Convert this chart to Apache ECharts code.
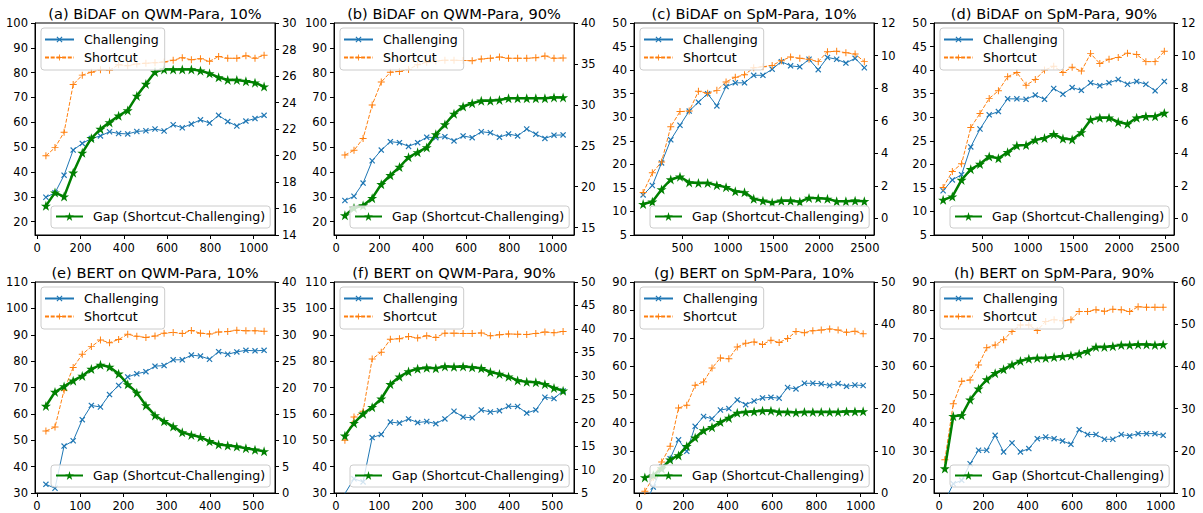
<!DOCTYPE html>
<html>
<head>
<meta charset="utf-8">
<script src="https://cdn.jsdelivr.net/npm/echarts@6/dist/echarts.min.js"></script>
<style>html,body{margin:0;padding:0;background:#fff}#c{width:1203px;height:513px}</style>
</head>
<body>
<div id="c"></div>
<script>
// ---------- x positions ----------
const xBiDAFQWM = [40,82,124,166,208,250,292,334,376,418,460,502,544,586,628,670,712,754,796,838,880,922,964,1006,1048];
const xBiDAFSpM = [70,171,272,373,474,575,676,777,878,979,1080,1181,1282,1383,1484,1585,1686,1787,1888,1989,2090,2191,2292,2393,2494];
const xBERTQWM = [21,42,63,84,105,126,147,168,189,210,231,252,273,294,315,336,357,378,399,420,441,462,483,504,525];
const xBERTSpM = [26,64,102,140,178,215,253,291,329,367,405,443,481,519,557,595,632,670,708,746,784,822,860,898,936,974,1011];

// ---------- series values ----------
const aChal = [29.8,31.6,38.7,48.8,51.5,53.5,54.5,56.2,55.5,55.3,56.3,56.6,57.3,56.5,59.0,57.8,59.3,61.0,59.7,62.8,60.3,58.5,60.5,61.5,62.8];
const aShort = [46.5,49.8,56.0,75.2,79.0,80.2,81.2,81.0,83.2,82.8,83.5,83.8,84.0,84.3,85.0,86.0,85.2,85.6,84.6,86.5,85.8,85.8,86.8,85.8,87.0];
const aGap = [16.2,17.2,16.9,18.7,20.2,21.3,22.0,22.5,23.0,23.4,24.5,25.4,26.3,26.5,26.5,26.5,26.5,26.4,26.2,25.9,25.7,25.7,25.6,25.5,25.2];

const bChal = [28.5,30.2,35.5,44.5,48.8,52.2,51.8,50.3,51.8,54.0,53.8,54.2,52.5,54.5,53.8,56.2,55.8,54.0,55.3,54.5,57.3,55.2,53.5,54.8,54.9];
const bShort = [46.8,48.7,53.5,67.0,76.2,80.2,80.5,81.3,83.2,84.2,84.7,85.0,85.0,84.9,84.8,85.5,85.8,86.3,85.8,85.8,85.8,86.0,86.7,85.8,85.9];
const bGap = [16.5,17.4,17.7,18.6,20.3,21.4,22.4,23.6,24.2,24.8,26.4,27.6,28.9,29.8,30.2,30.5,30.5,30.6,30.8,30.8,30.8,30.8,30.8,30.9,30.9];

const cChal = [13.5,15.5,20.3,25.2,28.3,31.3,33.2,35.0,32.4,36.5,37.3,37.3,38.9,38.9,40.2,41.8,40.9,40.7,42.3,40.1,42.7,42.3,41.5,42.5,40.5];
const cShort = [14.0,18.2,20.5,28.0,31.2,31.3,35.5,35.1,35.7,37.5,38.5,39.0,40.5,40.7,41.0,42.0,42.8,42.5,42.3,41.8,43.9,44.0,43.7,43.4,41.8];
const cGap = [0.88,1.02,1.78,2.39,2.56,2.21,2.18,2.18,2.04,1.92,1.66,1.60,1.20,1.08,0.97,1.08,1.08,1.02,1.26,1.23,1.20,1.05,1.05,1.08,1.05];

const dChal = [14.4,16.7,17.8,23.7,27.5,30.5,31.2,33.9,33.9,33.8,34.7,33.8,36.1,34.9,36.3,35.7,37.3,36.7,37.3,38.0,37.0,37.6,37.0,35.6,37.6];
const dShort = [15.1,18.5,20.1,27.8,30.8,34.0,35.6,38.6,39.5,36.8,38.0,40.0,40.8,39.5,40.6,39.8,43.5,41.4,42.3,42.7,43.6,43.3,41.8,41.8,44.0];
const dGap = [1.14,1.34,2.36,3.02,3.34,3.80,3.69,4.06,4.47,4.50,4.82,4.93,5.17,4.90,4.85,5.28,6.06,6.18,6.18,5.92,5.80,6.18,6.27,6.27,6.47];

const eChal = [33.3,31.8,47.8,49.8,57.8,63.2,62.6,67.3,70.8,74.0,75.2,76.0,78.1,78.3,80.5,80.5,82.3,81.9,80.7,83.6,82.6,83.5,84.1,83.9,84.1];
const eShort = [53.5,55.0,69.0,77.6,82.6,85.5,88.0,87.0,88.2,90.2,89.4,89.0,89.5,90.6,90.9,90.5,91.6,90.6,90.3,91.0,91.2,91.7,91.5,91.5,91.3];
const eGap = [16.5,19.15,20.2,21.3,22.2,23.5,24.3,23.9,22.6,20.6,19.0,16.6,14.7,13.6,12.6,11.5,11.0,10.6,9.8,9.2,9.0,8.8,8.5,8.2,7.9];

const fChal = [29.8,35.4,34.2,51.0,52.2,56.9,56.5,58.1,56.7,57.1,56.3,58.1,61.0,58.8,58.5,61.5,60.7,61.2,62.9,62.8,60.3,61.5,66.3,65.8,68.7];
const fShort = [50.0,58.8,61.0,80.8,83.4,88.3,88.5,89.3,88.8,89.6,89.0,90.6,90.6,90.5,90.5,90.7,89.6,90.0,90.3,90.2,90.1,90.5,91.0,90.8,91.2];
const fGap = [17.2,19.9,21.9,23.3,25.1,28.2,29.8,30.9,31.5,31.7,31.6,32.0,31.9,32.0,31.8,31.6,30.8,30.4,29.8,29.0,28.7,28.6,28.2,27.4,26.8];

const gChal = [11.0,17.1,24.2,27.2,33.9,29.8,38.7,42.2,41.4,44.5,45.0,48.1,46.4,47.7,48.8,49.0,48.7,52.5,52.0,54.0,54.0,53.8,53.2,53.9,52.9,53.4,53.2];
const gShort = [15.6,20.5,26.0,31.6,45.2,46.2,53.3,54.5,59.4,63.0,62.7,66.9,68.2,68.7,67.8,69.3,68.5,69.9,72.4,72.0,72.7,72.9,73.3,72.9,72.1,72.5,71.6];
const gGap = [3.7,4.2,5.8,7.9,8.9,11.1,13.1,14.8,15.6,16.8,17.8,19.0,19.2,19.3,19.5,19.5,19.2,19.2,19.1,19.2,19.2,19.2,19.2,19.2,19.3,19.3,19.35];

const hChal = [12.0,18.3,19.5,25.4,30.2,30.2,35.5,29.6,32.8,29.6,30.8,34.3,34.9,34.3,33.5,32.3,37.5,35.8,35.8,34.1,34.1,35.8,35.3,36.1,36.1,36.1,35.5];
const hShort = [26.8,46.7,54.7,55.2,60.5,66.6,67.6,69.5,72.4,74.7,74.7,72.8,76.0,76.6,76.2,76.6,79.5,79.5,80.1,79.6,80.3,80.1,79.5,81.2,81.0,81.0,81.0];
const hGap = [15.8,28.2,28.4,32.1,34.7,36.9,38.4,39.3,40.4,41.3,41.8,42.0,42.0,42.2,42.4,42.6,43.0,43.6,44.6,44.6,44.8,45.1,45.1,45.2,45.2,45.1,45.2];

// ---------- tick labels ----------
const xTicksBiDAFQWM = [0,200,400,600,800,1000];
const xTicksBiDAFSpM = [500,1000,1500,2000,2500];
const xTicksBERTQWM = [0,100,200,300,400,500];
const xTicksBERTSpM = [0,200,400,600,800,1000];
const yTicksLeftAB = [20,30,40,50,60,70,80,90,100];
const yTicksRightA = [14,16,18,20,22,24,26,28,30];
const yTicksRightB = [15,20,25,30,35,40];
const yTicksLeftCD = [5,10,15,20,25,30,35,40,45,50];
const yTicksRightCD = [0,2,4,6,8,10,12];
const yTicksLeftEF = [30,40,50,60,70,80,90,100,110];
const yTicksRightE = [0,5,10,15,20,25,30,35,40];
const yTicksRightF = [5,10,15,20,25,30,35,40,45,50];
const yTicksLeftGH = [20,30,40,50,60,70,80,90];
const yTicksRightG = [0,10,20,30,40,50];
const yTicksRightH = [10,20,30,40,50,60];

const titles = ['(a) BiDAF on QWM-Para, 10%','(b) BiDAF on QWM-Para, 90%','(c) BiDAF on SpM-Para, 10%','(d) BiDAF on SpM-Para, 90%',
                '(e) BERT on QWM-Para, 10%','(f) BERT on QWM-Para, 90%','(g) BERT on SpM-Para, 10%','(h) BERT on SpM-Para, 90%'];

const panels = [
  {x:xBiDAFQWM, chal:aChal, short:aShort, gap:aGap, xr:[-10.4,1098.4], xt:xTicksBiDAFQWM, lr:[14.6,100], lt:yTicksLeftAB, rr:[14,30], rt:yTicksRightA},
  {x:xBiDAFQWM, chal:bChal, short:bShort, gap:bGap, xr:[-10.4,1098.4], xt:xTicksBiDAFQWM, lr:[14.6,100], lt:yTicksLeftAB, rr:[14.1,40], rt:yTicksRightB},
  {x:xBiDAFSpM, chal:cChal, short:cShort, gap:cGap, xr:[-30,2600], xt:xTicksBiDAFSpM, lr:[5,50], lt:yTicksLeftCD, rr:[-1.02,12], rt:yTicksRightCD},
  {x:xBiDAFSpM, chal:dChal, short:dShort, gap:dGap, xr:[-30,2600], xt:xTicksBiDAFSpM, lr:[5,50], lt:yTicksLeftCD, rr:[-1.02,12], rt:yTicksRightCD},
  {x:xBERTQWM, chal:eChal, short:eShort, gap:eGap, xr:[-4.2,550.2], xt:xTicksBERTQWM, lr:[30,110], lt:yTicksLeftEF, rr:[0,40], rt:yTicksRightE},
  {x:xBERTQWM, chal:fChal, short:fShort, gap:fGap, xr:[-4.2,550.2], xt:xTicksBERTQWM, lr:[30,110], lt:yTicksLeftEF, rr:[5,50], rt:yTicksRightF},
  {x:xBERTSpM, chal:gChal, short:gShort, gap:gGap, xr:[-23,1060], xt:xTicksBERTSpM, lr:[15,90], lt:yTicksLeftGH, rr:[0,50], rt:yTicksRightG},
  {x:xBERTSpM, chal:hChal, short:hShort, gap:hGap, xr:[-23,1060], xt:xTicksBERTSpM, lr:[15,90], lt:yTicksLeftGH, rr:[10,60], rt:yTicksRightH}
];

const FONT = 'DejaVu Sans';
const FS = 11.5;
const LFS = 12.6;
const colLeft = [35, 334, 634, 934];
const rowTop = [23, 282];
const rowH = [212, 211];
const W = 240;
const C_BLUE = '#1f77b4', C_ORANGE = '#ff7f0e', C_GREEN = '#008000';
const SYM_X = 'path://M0,1.4L1.4,0L5,3.6L8.6,0L10,1.4L6.4,5L10,8.6L8.6,10L5,6.4L1.4,10L0,8.6L3.6,5Z';
const SYM_PLUS = 'path://M4.3,0H5.7V4.3H10V5.7H5.7V10H4.3V5.7H0V4.3H4.3Z';
const SYM_STAR = 'path://M50,0L61.2,34.5L97.6,34.5L68.2,55.9L79.4,90.5L50,69.1L20.6,90.5L31.8,55.9L2.4,34.5L38.8,34.5Z';

const grid = [], xAxis = [], yAxis = [], series = [], legend = [], graphic = [];
const fmt = v => String(v);

panels.forEach((p, i) => {
  const r = Math.floor(i / 4), c = i % 4;
  const gl = colLeft[c], gt = rowTop[r], gh = rowH[r];
  grid.push({left: gl, top: gt, width: W, height: gh, show: true, borderColor: '#000', borderWidth: 1, backgroundColor: 'transparent'});
  const axisCommon = {
    axisLine: {show: true, onZero: false, lineStyle: {color: '#000', width: 1}},
    splitLine: {show: false}
  };
  xAxis.push(Object.assign({
    gridIndex: i, type: 'value', min: p.xr[0], max: p.xr[1],
    axisTick: {show: true, inside: false, length: 4, lineStyle: {color: '#000'}, customValues: p.xt},
    axisLabel: {customValues: p.xt, formatter: fmt, color: '#000', fontSize: FS, fontFamily: FONT, margin: 7}
  }, axisCommon));
  yAxis.push(Object.assign({
    gridIndex: i, type: 'value', position: 'left', min: p.lr[0], max: p.lr[1],
    axisTick: {show: true, inside: false, length: 4, lineStyle: {color: '#000'}, customValues: p.lt},
    axisLabel: {customValues: p.lt, formatter: fmt, color: '#000', fontSize: FS, fontFamily: FONT, margin: 7}
  }, axisCommon));
  yAxis.push(Object.assign({
    gridIndex: i, type: 'value', position: 'right', min: p.rr[0], max: p.rr[1],
    axisTick: {show: true, inside: false, length: 4, lineStyle: {color: '#000'}, customValues: p.rt},
    axisLabel: {customValues: p.rt, formatter: fmt, color: '#000', fontSize: FS, fontFamily: FONT, margin: 7}
  }, axisCommon));
  const pair = (ys) => p.x.map((x, k) => [x, ys[k]]);
  series.push({
    name: 'Challenging', type: 'line', xAxisIndex: i, yAxisIndex: 2 * i, data: pair(p.chal),
    symbol: SYM_X, symbolSize: 6, showSymbol: true, clip: true, z: 2,
    lineStyle: {color: C_BLUE, width: 1}, itemStyle: {color: C_BLUE}
  });
  series.push({
    name: 'Shortcut', type: 'line', xAxisIndex: i, yAxisIndex: 2 * i, data: pair(p.short),
    symbol: SYM_PLUS, symbolSize: 7, showSymbol: true, clip: true, z: 2,
    lineStyle: {color: C_ORANGE, width: 1, type: [4, 1.7]}, itemStyle: {color: C_ORANGE}
  });
  series.push({
    name: 'Gap (Shortcut-Challenging)', type: 'line', xAxisIndex: i, yAxisIndex: 2 * i + 1, data: pair(p.gap),
    symbol: SYM_STAR, symbolSize: 10, showSymbol: true, clip: true, z: 3,
    lineStyle: {color: C_GREEN, width: 2.5}, itemStyle: {color: C_GREEN}
  });
  const legCommon = {
    orient: 'vertical', selectedMode: false,
    backgroundColor: 'rgba(255,255,255,0.8)', borderColor: '#cccccc', borderWidth: 1, borderRadius: 3,
    textStyle: {fontSize: LFS, color: '#000', fontFamily: FONT, padding: [0, 0, 0, 5]}
  };
  legend.push(Object.assign({
    left: gl + 6, top: gt + 5, data: ['Challenging', 'Shortcut'],
    itemWidth: 29, itemHeight: 7.5, itemGap: 5, padding: [5, 6, 6, 3]
  }, legCommon));
  legend.push(Object.assign({
    left: gl + 16, top: gt + 183, data: ['Gap (Shortcut-Challenging)'],
    itemWidth: 27, itemHeight: 11, itemGap: 6, padding: [4, 5, 5, 4]
  }, legCommon));
  graphic.push({
    type: 'text', x: gl + W / 2, y: gt - 10, silent: true,
    style: {text: titles[i], fill: '#000', font: '14.6px "' + FONT + '"', textAlign: 'center', textVerticalAlign: 'middle', align: 'center', verticalAlign: 'middle'}
  });
});

const chart = echarts.init(document.getElementById('c'), null, {renderer: 'svg', width: 1203, height: 513});
chart.setOption({
  animation: false,
  backgroundColor: '#fff',
  grid, xAxis, yAxis, series, legend, graphic
});
</script>
</body>
</html>
